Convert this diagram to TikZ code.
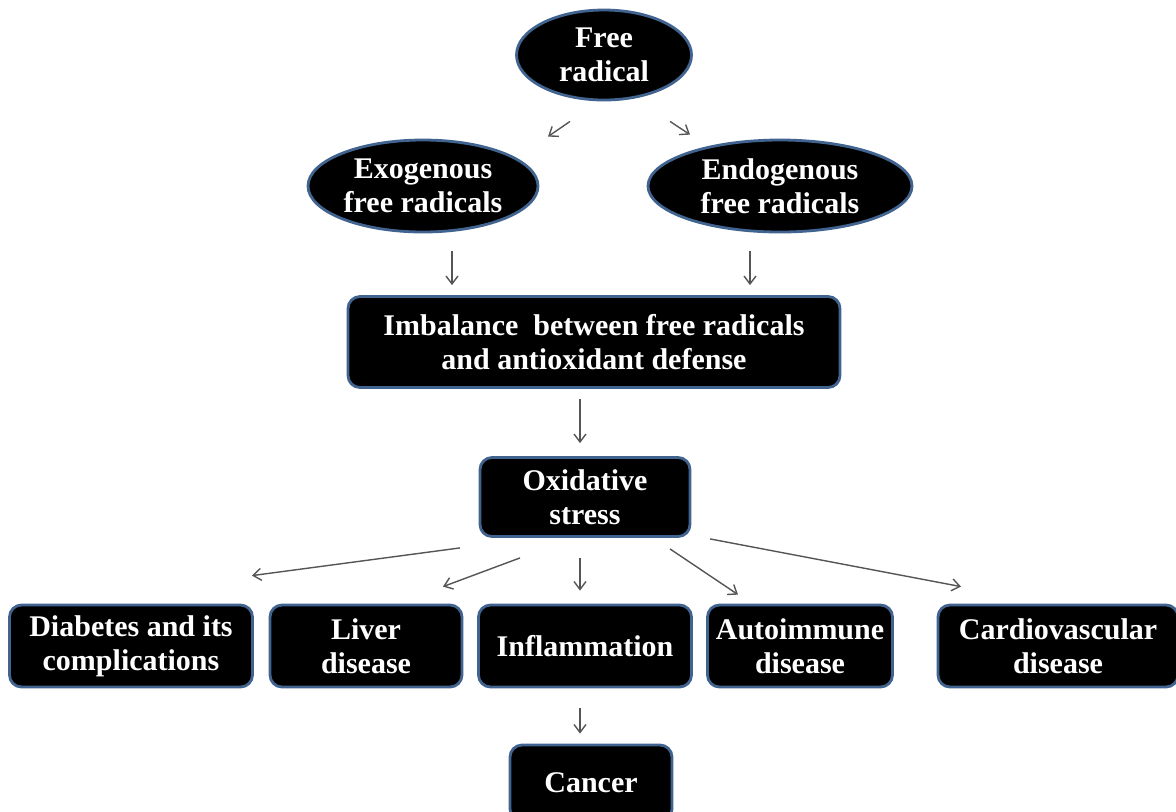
\documentclass[tikz,border=0pt]{standalone}
\usepackage{fontspec}
\setmainfont{Liberation Serif}
\usetikzlibrary{shapes.geometric,arrows.meta}
\definecolor{bord}{HTML}{41638F}
\definecolor{arrgray}{HTML}{555555}
\tikzset{
  txt/.style={text=white, align=center, font={\fontsize{15}{17}\selectfont\bfseries}},
  oval/.style={ellipse, draw=bord, fill=black, line width=1.4pt, inner sep=0pt, txt},
  box/.style={rectangle, rounded corners=6pt, draw=bord, fill=black, line width=1.4pt, inner sep=0pt, txt},
  arr/.style={draw=arrgray, line width=0.7pt, -{Straight Barb[length=4pt,width=6pt]}}
}
\begin{document}
\begin{tikzpicture}[x=0.5pt,y=-0.5pt]
\useasboundingbox (0,0) rectangle (1176,811);
\node[oval, minimum width=87.5pt, minimum height=45pt] (fr) at (604,55) {Free\\radical};
\node[oval, minimum width=115pt, minimum height=46pt] (exo) at (423,186) {Exogenous\\free radicals};
\node[oval, minimum width=132pt, minimum height=46pt] (endo) at (780,186) {Endogenous\\free radicals};
\node[box, minimum width=246pt, minimum height=45.5pt] (imb) at (594,342) {Imbalance\ \ between free radicals\\and antioxidant defense};
\node[box, minimum width=105pt, minimum height=39.5pt] (ox) at (585,497) {Oxidative\\stress};
\node[box, minimum width=121.5pt, minimum height=41pt] (diab) at (131,646) {Diabetes and its\\complications};
\node[box, minimum width=96pt, minimum height=41pt] (liver) at (366,646) {Liver\\disease};
\node[box, minimum width=106.5pt, minimum height=41pt] (infl) at (585,646) {Inflammation};
\node[box, minimum width=92.5pt, minimum height=41pt] (auto) at (800,646) {Autoimmune\\disease};
\node[box, minimum width=120pt, minimum height=41pt] (card) at (1058,646) {Cardiovascular\\disease};
\node[box, minimum width=81pt, minimum height=38pt] (cancer) at (591,783) {Cancer};

\draw[arr] ([shift={(-34,20)}]fr.south) -- ([shift={(125,-2)}]exo.north);
\draw[arr] ([shift={(66,20)}]fr.south) -- ([shift={(-90,-4)}]endo.north);
\draw[arr] ([shift={(29,18)}]exo.south) -- ([shift={(-142,-10)}]imb.north);
\draw[arr] ([shift={(-30,18)}]endo.south) -- ([shift={(156,-10)}]imb.north);
\draw[arr] ([shift={(-14,10)}]imb.south) -- ([shift={(-5,-13)}]ox.north);
\draw[arr] ([shift={(-125,10)}]ox.south) -- ([shift={(121,-28)}]diab.north);
\draw[arr] ([shift={(-65,20)}]ox.south) -- ([shift={(77,-17)}]liver.north);
\draw[arr] ([shift={(-5,20)}]ox.south) -- ([shift={(-5,-13)}]infl.north);
\draw[arr] ([shift={(85,11)}]ox.south) -- ([shift={(-62,-9)}]auto.north);
\draw[arr] ([shift={(125,1)}]ox.south) -- ([shift={(-97,-17)}]card.north);
\draw[arr] ([shift={(-5,20)}]infl.south) -- ([shift={(-11,-10)}]cancer.north);
\end{tikzpicture}
\end{document}
